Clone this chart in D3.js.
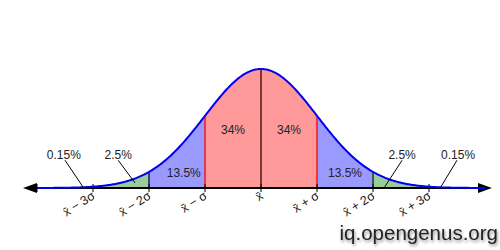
<!DOCTYPE html>
<html>
<head>
<meta charset="utf-8">
<script src="https://cdn.jsdelivr.net/npm/d3@7"></script>
<style>
  body { margin: 0; background: #fff; }
  svg text { font-family: "Liberation Sans", Arial, sans-serif; }
  .wm { font-size: 20.5px; fill: #222; filter: drop-shadow(1px 2px 1.5px rgba(0,0,0,0.45)); }
</style>
</head>
<body>
<svg id="chart" width="500" height="250"></svg>
<script>
// boundaries in units of sigma
const bounds = [-3, -2, -1, 0, 1, 2, 3];
const tickLabels = ["x\u0304 \u2212 3\u03c3", "x\u0304 \u2212 2\u03c3", "x\u0304 \u2212 \u03c3", "x\u0304",
                    "x\u0304 + \u03c3", "x\u0304 + 2\u03c3", "x\u0304 + 3\u03c3"];
// shaded bands: from, to
const bandFrom = [-3, -2, -1, 0, 1, 2];
const bandTo   = [-2, -1, 0, 1, 2, 3];
const bandColor = ["#99cc99", "#9999ff", "#ff9999", "#ff9999", "#9999ff", "#99cc99"];
const boundColor = ["#000", "#000066", "#ff0000", "#330000", "#ff0000", "#003300", "#000"];
// percent labels (x in sigma, y in density units)
const pctText = ["0.15%", "2.5%", "13.5%", "34%", "34%", "13.5%", "2.5%", "0.15%"];
const pctX    = [-3.52, -2.55, -1.38, -0.5, 0.5, 1.5, 2.52, 3.52];
const pctY    = [0.107, 0.107, 0.047, 0.191, 0.191, 0.047, 0.107, 0.107];
// leader lines for the tail labels: [x1, y1, x2, y2] in sigma / density
const leaders = [
  [-3.5, 0.093, -3.17, 0.001],
  [-2.55, 0.093, -2.25, 0.017],
  [2.52, 0.093, 2.2, 0.001],
  [3.5, 0.093, 3.2, 0.0]
];

const svg = d3.select("#chart");
const x = d3.scaleLinear().domain([-4, 4]).range([37, 485]);
const y = d3.scaleLinear().domain([0, 0.3989]).range([188, 69]);
const pdf = z => Math.exp(-z * z / 2) / Math.sqrt(2 * Math.PI);

const area = d3.area().x(d => x(d)).y0(y(0)).y1(d => y(pdf(d)));
const line = d3.line().x(d => x(d)).y(d => y(pdf(d)));

bandFrom.forEach((a, i) => {
  const pts = d3.range(a, bandTo[i] + 0.0001, 0.02);
  svg.append("path").attr("d", area(pts)).attr("fill", bandColor[i]);
});

// boundary lines
svg.selectAll(".bnd").data(bounds.slice(1, -1)).join("line")
  .attr("x1", d => x(d)).attr("x2", d => x(d))
  .attr("y1", y(0)).attr("y2", d => y(pdf(d)))
  .attr("stroke", (d, i) => boundColor[i + 1]).attr("stroke-width", 1.3);

// axis
svg.append("line").attr("x1", x(-4)).attr("x2", x(4) + 2)
  .attr("y1", y(0)).attr("y2", y(0)).attr("stroke", "#000").attr("stroke-width", 2);
svg.append("path").attr("d", `M${x(-4) - 14},${y(0)} L${x(-4)},${y(0) - 5} L${x(-4)},${y(0) + 5} Z`);
svg.append("path").attr("d", `M${x(4) + 7},${y(0)} L${x(4) - 7},${y(0) - 5} L${x(4) - 7},${y(0) + 5} Z`);
svg.selectAll(".tk").data([-4].concat(bounds)).join("line")
  .attr("x1", d => x(d)).attr("x2", d => x(d))
  .attr("y1", y(0) - 4).attr("y2", y(0) + 4)
  .attr("stroke", "#000").attr("stroke-width", 1);

// curve
const all = d3.range(-4, 4.0001, 0.02);
svg.append("path").attr("d", line(all)).attr("fill", "none")
  .attr("stroke", "#0000ee").attr("stroke-width", 2);

// tick labels
svg.selectAll(".tl").data(bounds).join("text")
  .attr("transform", d => `translate(${x(d) + 3},${y(0) + 10}) rotate(-32)`)
  .attr("text-anchor", "end").attr("font-size", 12.5).attr("fill", "#222")
  .text((d, i) => tickLabels[i]);

// leader lines
svg.selectAll(".ld").data(leaders).join("line")
  .attr("x1", d => x(d[0])).attr("y1", d => y(d[1]))
  .attr("x2", d => x(d[2])).attr("y2", d => y(d[3]))
  .attr("stroke", "#000").attr("stroke-width", 1);

// percent labels
svg.selectAll(".pct").data(pctText).join("text")
  .attr("x", (d, i) => x(pctX[i])).attr("y", (d, i) => y(pctY[i]))
  .attr("text-anchor", "middle").attr("dominant-baseline", "middle")
  .attr("font-size", 12).attr("fill", "#222")
  .text(d => d);

svg.append("text").attr("class", "wm").attr("x", 498).attr("y", 240)
  .attr("text-anchor", "end").text("iq.opengenus.org");
</script>
</body>
</html>
